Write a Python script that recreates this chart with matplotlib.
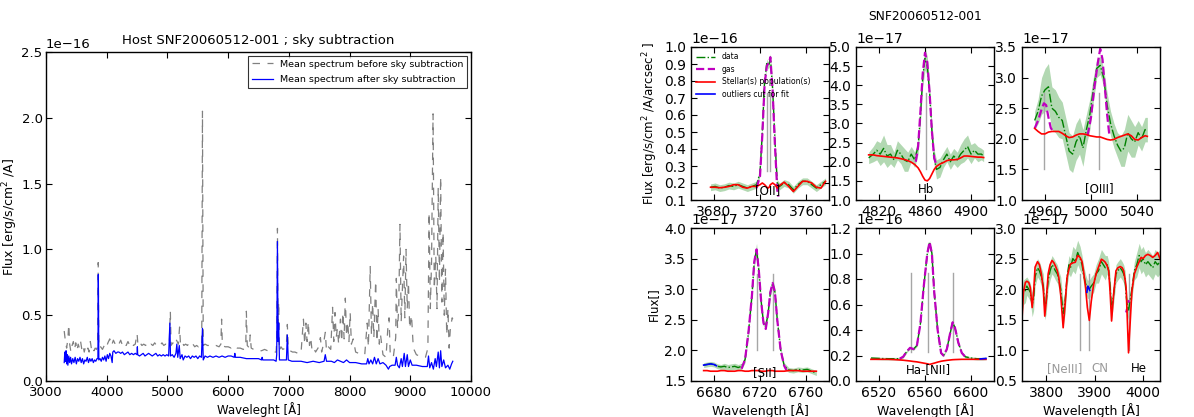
import numpy as np
import matplotlib
matplotlib.use("Agg")
import matplotlib.pyplot as plt
from matplotlib.ticker import MultipleLocator

# ── Left panel: mean spectra (flux in units of 1e-16) ───────────────
SKY_BEFORE = [
    (3300, 0.38), (3320, 0.30), (3340, 0.25), (3360, 0.32), (3375, 0.43), (3390, 0.28),
    (3410, 0.22), (3430, 0.27), (3450, 0.30), (3470, 0.24), (3490, 0.29), (3510, 0.23),
    (3530, 0.28), (3550, 0.25), (3570, 0.30), (3590, 0.24), (3610, 0.27), (3630, 0.22),
    (3650, 0.26), (3670, 0.23), (3690, 0.25), (3710, 0.22), (3730, 0.30), (3750, 0.24),
    (3770, 0.26), (3790, 0.23), (3810, 0.25), (3830, 0.24), (3850, 0.26), (3860, 0.90),
    (3870, 0.25), (3900, 0.26), (3930, 0.24), (3960, 0.27), (3990, 0.25), (4020, 0.29),
    (4050, 0.32), (4080, 0.27), (4110, 0.31), (4140, 0.28), (4170, 0.30), (4200, 0.28),
    (4230, 0.31), (4260, 0.27), (4290, 0.29), (4320, 0.27), (4350, 0.30), (4380, 0.27),
    (4410, 0.29), (4440, 0.27), (4470, 0.28), (4500, 0.36), (4515, 0.27), (4550, 0.29),
    (4580, 0.27), (4610, 0.28), (4640, 0.27), (4670, 0.29), (4700, 0.27), (4730, 0.28),
    (4760, 0.27), (4790, 0.29), (4820, 0.27), (4850, 0.28), (4880, 0.27), (4910, 0.29),
    (4940, 0.27), (4970, 0.28), (5000, 0.27), (5030, 0.28), (5048, 0.53), (5060, 0.27),
    (5090, 0.29), (5120, 0.27), (5150, 0.31), (5180, 0.28), (5200, 0.41), (5215, 0.28),
    (5240, 0.30), (5270, 0.27), (5300, 0.28), (5330, 0.27), (5360, 0.29), (5390, 0.27),
    (5420, 0.28), (5450, 0.26), (5480, 0.27), (5510, 0.26), (5540, 0.28), (5565, 0.27),
    (5577, 2.05), (5590, 0.27), (5620, 0.28), (5660, 0.27), (5700, 0.27), (5750, 0.26),
    (5800, 0.27), (5850, 0.26), (5880, 0.28), (5892, 0.47), (5905, 0.27), (5950, 0.26),
    (6000, 0.26), (6050, 0.25), (6100, 0.27), (6150, 0.25), (6200, 0.25), (6250, 0.24),
    (6290, 0.26), (6300, 0.53), (6315, 0.27), (6350, 0.25), (6363, 0.35), (6380, 0.25),
    (6420, 0.24), (6470, 0.24), (6500, 0.23), (6550, 0.23), (6600, 0.24), (6650, 0.23),
    (6700, 0.22), (6750, 0.22), (6790, 0.22), (6800, 0.30), (6812, 1.16), (6822, 0.35),
    (6832, 0.60), (6845, 0.23), (6870, 0.26), (6900, 0.24), (6940, 0.25), (6960, 0.28),
    (6975, 0.43), (6990, 0.24), (7020, 0.23), (7060, 0.22), (7100, 0.22), (7150, 0.21),
    (7200, 0.21), (7240, 0.47), (7260, 0.28), (7280, 0.44), (7300, 0.30), (7320, 0.45),
    (7340, 0.27), (7360, 0.33), (7380, 0.24), (7400, 0.26), (7440, 0.22), (7480, 0.25),
    (7520, 0.33), (7540, 0.22), (7570, 0.28), (7600, 0.37), (7620, 0.23), (7650, 0.26),
    (7690, 0.24), (7720, 0.56), (7740, 0.30), (7760, 0.52), (7780, 0.33), (7800, 0.40),
    (7820, 0.28), (7850, 0.47), (7870, 0.30), (7890, 0.52), (7910, 0.32), (7930, 0.63),
    (7950, 0.34), (7970, 0.45), (7990, 0.30), (8010, 0.52), (8030, 0.28), (8060, 0.32),
    (8100, 0.22), (8150, 0.21), (8200, 0.20), (8250, 0.20), (8290, 0.44), (8310, 0.26),
    (8340, 0.87), (8360, 0.35), (8380, 0.59), (8400, 0.33), (8430, 0.76), (8450, 0.30),
    (8470, 0.55), (8490, 0.28), (8510, 0.35), (8550, 0.20), (8600, 0.18), (8630, 0.40),
    (8650, 0.48), (8670, 0.20), (8720, 0.18), (8760, 0.33), (8770, 0.78), (8790, 0.40),
    (8810, 0.55), (8830, 1.19), (8850, 0.45), (8870, 0.70), (8890, 0.95), (8910, 0.48),
    (8930, 1.00), (8950, 0.55), (8970, 0.75), (8990, 0.40), (9020, 0.50), (9050, 0.25),
    (9100, 0.20), (9150, 0.19), (9200, 0.18), (9250, 0.18), (9290, 0.25), (9310, 1.28),
    (9330, 0.55), (9350, 0.90), (9375, 2.03), (9395, 0.70), (9420, 0.95), (9440, 0.55),
    (9460, 1.47), (9480, 0.75), (9500, 1.55), (9520, 0.60), (9540, 1.13), (9560, 0.50),
    (9580, 0.85), (9600, 0.35), (9620, 0.55), (9640, 0.25), (9660, 0.40), (9690, 0.48),
    (9700, 0.47),
]

SKY_AFTER = [
    (3300, 0.14), (3310, 0.22), (3320, 0.15), (3330, 0.23), (3340, 0.13), (3350, 0.20),
    (3360, 0.12), (3375, 0.19), (3390, 0.14), (3405, 0.18), (3420, 0.13), (3440, 0.17),
    (3460, 0.14), (3480, 0.18), (3500, 0.13), (3520, 0.17), (3540, 0.15), (3560, 0.18),
    (3580, 0.14), (3600, 0.17), (3620, 0.13), (3640, 0.16), (3660, 0.15), (3680, 0.18),
    (3700, 0.14), (3720, 0.17), (3740, 0.15), (3760, 0.17), (3780, 0.14), (3800, 0.16),
    (3820, 0.15), (3840, 0.17), (3855, 0.17), (3862, 0.81), (3870, 0.16), (3890, 0.17),
    (3910, 0.15), (3930, 0.18), (3950, 0.16), (3970, 0.19), (3990, 0.15), (4010, 0.20),
    (4030, 0.17), (4050, 0.21), (4070, 0.19), (4090, 0.14), (4100, 0.22), (4120, 0.23),
    (4150, 0.21), (4180, 0.22), (4200, 0.22), (4230, 0.21), (4260, 0.22), (4290, 0.20),
    (4320, 0.21), (4350, 0.22), (4380, 0.20), (4410, 0.21), (4440, 0.20), (4470, 0.21),
    (4500, 0.20), (4505, 0.26), (4510, 0.20), (4540, 0.19), (4570, 0.20), (4600, 0.21),
    (4630, 0.19), (4660, 0.20), (4690, 0.21), (4720, 0.20), (4750, 0.19), (4780, 0.20),
    (4810, 0.21), (4840, 0.19), (4870, 0.20), (4900, 0.19), (4930, 0.20), (4960, 0.19),
    (4990, 0.20), (5020, 0.19), (5040, 0.44), (5050, 0.19), (5080, 0.20), (5110, 0.18),
    (5140, 0.21), (5155, 0.28), (5170, 0.18), (5195, 0.27), (5210, 0.17), (5240, 0.20),
    (5260, 0.16), (5290, 0.19), (5320, 0.18), (5350, 0.19), (5380, 0.17), (5410, 0.19),
    (5440, 0.18), (5470, 0.19), (5500, 0.17), (5530, 0.19), (5560, 0.18), (5577, 0.40),
    (5590, 0.16), (5620, 0.19), (5660, 0.18), (5700, 0.19), (5750, 0.18), (5800, 0.19),
    (5850, 0.18), (5900, 0.19), (5950, 0.18), (6000, 0.19), (6050, 0.19), (6100, 0.18),
    (6110, 0.21), (6120, 0.18), (6200, 0.18), (6300, 0.17), (6400, 0.17), (6500, 0.17),
    (6550, 0.16), (6560, 0.18), (6570, 0.16), (6650, 0.16), (6750, 0.16), (6790, 0.15),
    (6800, 0.20), (6812, 1.06), (6822, 0.30), (6832, 0.44), (6845, 0.16), (6900, 0.16),
    (6960, 0.16), (6975, 0.35), (6990, 0.16), (7050, 0.15), (7100, 0.15), (7200, 0.15),
    (7300, 0.14), (7400, 0.15), (7500, 0.14), (7580, 0.15), (7600, 0.20), (7620, 0.15),
    (7700, 0.15), (7750, 0.14), (7800, 0.16), (7850, 0.15), (7900, 0.14), (7950, 0.16),
    (8000, 0.14), (8100, 0.14), (8200, 0.13), (8280, 0.13), (8300, 0.17), (8320, 0.13),
    (8350, 0.16), (8380, 0.13), (8410, 0.18), (8440, 0.13), (8470, 0.17), (8500, 0.13),
    (8550, 0.14), (8600, 0.12), (8640, 0.09), (8660, 0.11), (8700, 0.12), (8750, 0.12),
    (8770, 0.18), (8790, 0.12), (8820, 0.10), (8850, 0.17), (8870, 0.11), (8900, 0.21),
    (8920, 0.11), (8950, 0.20), (8970, 0.11), (9000, 0.16), (9030, 0.12), (9100, 0.12),
    (9200, 0.11), (9280, 0.11), (9300, 0.19), (9320, 0.10), (9350, 0.14), (9380, 0.09),
    (9410, 0.17), (9430, 0.11), (9460, 0.22), (9480, 0.10), (9500, 0.23), (9520, 0.11),
    (9550, 0.16), (9580, 0.10), (9620, 0.12), (9650, 0.09), (9680, 0.13), (9700, 0.15),
]

# ── Right panels: rows of (wavelength, data, error, stellar) ────────
OII_ROWS = [
    (3677, 0.175, 0.02, 0.175), (3681, 0.18, 0.02, 0.175), (3685, 0.17, 0.02, 0.172),
    (3689, 0.175, 0.02, 0.175), (3693, 0.185, 0.02, 0.18), (3697, 0.18, 0.02, 0.19),
    (3701, 0.19, 0.02, 0.19), (3705, 0.18, 0.02, 0.175), (3709, 0.17, 0.02, 0.17),
    (3713, 0.18, 0.02, 0.18), (3717, 0.19, 0.02, 0.18), (3720, 0.26, 0.02, 0.19),
    (3722, 0.50, 0.02, 0.20), (3724, 0.80, 0.02, 0.19), (3726, 0.91, 0.02, 0.175),
    (3727, 0.89, 0.02, 0.17), (3728, 0.90, 0.02, 0.175), (3729, 0.94, 0.02, 0.19),
    (3731, 0.75, 0.02, 0.20), (3733, 0.45, 0.02, 0.19), (3735, 0.20, 0.02, 0.17),
    (3737, 0.18, 0.02, 0.185), (3741, 0.20, 0.02, 0.205), (3745, 0.19, 0.02, 0.18),
    (3749, 0.16, 0.02, 0.15), (3753, 0.19, 0.02, 0.18), (3757, 0.21, 0.02, 0.21),
    (3761, 0.21, 0.02, 0.21), (3765, 0.19, 0.02, 0.20), (3769, 0.17, 0.02, 0.175),
    (3773, 0.19, 0.02, 0.17), (3777, 0.21, 0.02, 0.21),
]
OII_GAS_WAVE = [3717, 3720, 3722, 3724, 3726, 3727, 3728, 3729, 3731, 3733, 3735, 3736]
OII_GAS = [0.17, 0.24, 0.48, 0.78, 0.89, 0.90, 0.91, 0.94, 0.74, 0.42, 0.16, 0.12]

HB_ROWS = [
    (4811, 2.10, 0.15, 2.18), (4815, 2.20, 0.20, 2.18), (4818, 2.30, 0.25, 2.16),
    (4821, 2.20, 0.30, 2.15), (4824, 2.35, 0.35, 2.14), (4827, 2.15, 0.30, 2.13),
    (4830, 2.20, 0.25, 2.12), (4833, 2.05, 0.20, 2.11), (4836, 2.30, 0.25, 2.10),
    (4839, 2.20, 0.25, 2.08), (4842, 2.05, 0.30, 2.06), (4845, 2.00, 0.25, 2.03),
    (4848, 2.20, 0.20, 1.99), (4851, 2.05, 0.20, 1.93), (4854, 2.40, 0.20, 1.84),
    (4856, 3.20, 0.20, 1.74), (4858, 4.20, 0.25, 1.62), (4860, 4.70, 0.30, 1.52),
    (4862, 4.50, 0.25, 1.50), (4864, 3.80, 0.20, 1.56), (4866, 2.80, 0.20, 1.68),
    (4868, 2.10, 0.20, 1.80), (4870, 1.80, 0.25, 1.88), (4873, 1.85, 0.25, 1.94),
    (4876, 2.05, 0.20, 1.98), (4879, 2.20, 0.20, 2.03), (4882, 2.00, 0.20, 2.05),
    (4885, 2.15, 0.20, 2.05), (4888, 2.05, 0.20, 2.06), (4891, 2.20, 0.25, 2.10),
    (4894, 2.30, 0.30, 2.15), (4897, 2.40, 0.30, 2.15), (4900, 2.20, 0.25, 2.14),
    (4903, 2.30, 0.20, 2.13), (4906, 2.20, 0.20, 2.12), (4909, 2.20, 0.15, 2.12),
    (4911, 2.15, 0.15, 2.11),
]
HB_GAS_WAVE = [4852, 4854, 4856, 4858, 4860, 4862, 4864, 4866, 4868, 4870]
HB_GAS = [2.00, 2.40, 3.30, 4.30, 4.85, 4.60, 3.80, 2.80, 2.10, 1.90]

OIII_ROWS = [
    (4951, 2.30, 0.15, 2.17), (4954, 2.45, 0.20, 2.12), (4957, 2.70, 0.30, 2.08),
    (4960, 2.80, 0.35, 2.08), (4963, 2.85, 0.38, 2.11), (4966, 2.50, 0.35, 2.12),
    (4969, 2.45, 0.35, 2.12), (4972, 2.35, 0.33, 2.12), (4975, 2.30, 0.30, 2.09),
    (4978, 2.05, 0.30, 2.05), (4981, 1.80, 0.30, 2.02), (4984, 1.75, 0.30, 2.03),
    (4987, 1.95, 0.30, 2.06), (4990, 2.05, 0.30, 2.08), (4993, 1.85, 0.30, 2.08),
    (4996, 2.15, 0.25, 2.07), (4999, 2.40, 0.25, 2.05), (5002, 2.80, 0.20, 2.04),
    (5005, 3.15, 0.15, 2.03), (5008, 3.20, 0.15, 2.03), (5011, 3.00, 0.15, 2.01),
    (5014, 2.55, 0.20, 1.99), (5017, 2.25, 0.20, 1.98), (5020, 2.05, 0.20, 1.99),
    (5023, 1.90, 0.20, 2.02), (5026, 1.80, 0.25, 2.04), (5029, 1.85, 0.30, 2.06),
    (5032, 2.10, 0.30, 2.08), (5035, 2.00, 0.30, 2.05), (5038, 1.95, 0.25, 1.99),
    (5041, 2.10, 0.20, 1.98), (5044, 2.00, 0.20, 2.02), (5047, 2.15, 0.20, 2.05),
    (5049, 2.15, 0.20, 2.04),
]
OIII_GAS_WAVE = [[4951, 4954, 4957, 4959, 4961, 4963, 4965, 4967],
                 [4997, 5000, 5003, 5006, 5008, 5010, 5012, 5014, 5016]]
OIII_GAS = [[2.17, 2.30, 2.48, 2.58, 2.55, 2.35, 2.18, 2.12],
            [2.05, 2.35, 2.85, 3.25, 3.47, 3.30, 2.85, 2.40, 2.05]]

SII_ROWS = [
    (6671, 1.76, 0.04, 1.67), (6674, 1.77, 0.04, 1.67), (6677, 1.78, 0.04, 1.66),
    (6680, 1.77, 0.04, 1.66), (6683, 1.74, 0.04, 1.66), (6686, 1.73, 0.04, 1.67),
    (6689, 1.74, 0.05, 1.67), (6692, 1.72, 0.05, 1.66), (6695, 1.73, 0.05, 1.66),
    (6698, 1.74, 0.05, 1.66), (6701, 1.72, 0.05, 1.67), (6704, 1.74, 0.05, 1.67),
    (6707, 1.85, 0.05, 1.66), (6710, 2.30, 0.05, 1.66), (6713, 2.90, 0.06, 1.67),
    (6715, 3.45, 0.08, 1.67), (6717, 3.65, 0.10, 1.67), (6719, 3.30, 0.08, 1.67),
    (6721, 2.80, 0.06, 1.66), (6723, 2.45, 0.05, 1.66), (6725, 2.40, 0.05, 1.66),
    (6727, 2.60, 0.05, 1.67), (6729, 2.95, 0.06, 1.67), (6731, 3.10, 0.07, 1.67),
    (6733, 2.95, 0.06, 1.66), (6735, 2.50, 0.05, 1.66), (6738, 2.00, 0.05, 1.66),
    (6741, 1.75, 0.05, 1.66), (6745, 1.68, 0.04, 1.67), (6749, 1.67, 0.04, 1.67),
    (6753, 1.69, 0.04, 1.67), (6757, 1.68, 0.04, 1.66), (6761, 1.69, 0.04, 1.66),
    (6765, 1.66, 0.04, 1.66), (6769, 1.63, 0.04, 1.66),
]
SII_GAS_WAVE = [6704, 6707, 6710, 6713, 6715, 6717, 6719, 6721, 6723,
                6725, 6727, 6729, 6731, 6733, 6735, 6738, 6741, 6743]
SII_GAS = [1.70, 1.85, 2.30, 2.90, 3.45, 3.65, 3.30, 2.80, 2.45,
           2.35, 2.60, 2.95, 3.10, 2.95, 2.50, 2.00, 1.75, 1.68]
SII_OUT_WAVE = [6671, 6674, 6677, 6680, 6682]
SII_OUT = [1.76, 1.77, 1.78, 1.77, 1.75]

HA_ROWS = [
    (6513, 0.180, 0.010, 0.170), (6518, 0.178, 0.010, 0.170), (6523, 0.176, 0.010, 0.170),
    (6528, 0.175, 0.010, 0.170), (6533, 0.175, 0.010, 0.168), (6538, 0.175, 0.010, 0.165),
    (6541, 0.190, 0.010, 0.163), (6544, 0.230, 0.010, 0.160), (6547, 0.260, 0.010, 0.157),
    (6550, 0.250, 0.010, 0.153), (6553, 0.280, 0.010, 0.150), (6556, 0.450, 0.010, 0.145),
    (6559, 0.750, 0.012, 0.140), (6562, 1.000, 0.012, 0.135), (6564, 1.090, 0.012, 0.130),
    (6566, 1.000, 0.012, 0.135), (6568, 0.700, 0.012, 0.140), (6571, 0.400, 0.010, 0.148),
    (6574, 0.220, 0.010, 0.155), (6576, 0.200, 0.010, 0.158), (6579, 0.250, 0.010, 0.162),
    (6582, 0.380, 0.010, 0.165), (6584, 0.460, 0.010, 0.167), (6586, 0.420, 0.010, 0.168),
    (6589, 0.300, 0.010, 0.169), (6592, 0.220, 0.010, 0.170), (6595, 0.190, 0.010, 0.170),
    (6600, 0.180, 0.010, 0.170), (6605, 0.175, 0.010, 0.170), (6610, 0.175, 0.010, 0.170),
    (6613, 0.177, 0.010, 0.170),
]
HA_GAS_WAVE = [6538, 6541, 6544, 6547, 6550, 6553, 6556, 6559, 6562, 6564, 6566,
               6568, 6571, 6574, 6576, 6579, 6582, 6584, 6586, 6589, 6592, 6595]
HA_GAS = [0.175, 0.19, 0.23, 0.26, 0.25, 0.28, 0.45, 0.75, 1.00, 1.09, 1.00,
          0.70, 0.40, 0.22, 0.20, 0.25, 0.38, 0.46, 0.42, 0.30, 0.22, 0.19]
HA_OUT_WAVE = [6608, 6613]
HA_OUT = [0.173, 0.177]

CONT_ROWS = [
    (3750, 1.80, 0.20, 1.51), (3753, 1.95, 0.20, 1.95), (3757, 1.98, 0.20, 2.11),
    (3760, 2.05, 0.15, 2.13), (3764, 2.00, 0.15, 2.11), (3767, 1.95, 0.15, 2.03),
    (3771, 1.75, 0.20, 1.70), (3774, 1.85, 0.20, 1.95), (3777, 2.20, 0.15, 2.36),
    (3782, 2.35, 0.15, 2.45), (3786, 2.30, 0.15, 2.40), (3790, 2.20, 0.15, 2.25),
    (3794, 2.05, 0.20, 2.00), (3797, 1.70, 0.20, 1.56), (3800, 1.80, 0.20, 1.80),
    (3804, 2.15, 0.15, 2.25), (3808, 2.30, 0.15, 2.40), (3812, 2.40, 0.15, 2.47),
    (3816, 2.35, 0.15, 2.43), (3819, 2.30, 0.15, 2.38), (3823, 2.25, 0.15, 2.30),
    (3826, 2.15, 0.15, 2.19), (3830, 2.00, 0.20, 1.90), (3835, 1.60, 0.20, 1.37),
    (3839, 1.80, 0.20, 1.75), (3843, 2.20, 0.15, 2.19), (3847, 2.40, 0.15, 2.33),
    (3850, 2.35, 0.15, 2.41), (3855, 2.50, 0.20, 2.43), (3860, 2.45, 0.20, 2.44),
    (3865, 2.60, 0.20, 2.55), (3870, 2.50, 0.20, 2.52), (3874, 2.40, 0.15, 2.45),
    (3877, 2.25, 0.15, 2.30), (3881, 2.10, 0.15, 2.05), (3885, 2.00, 0.15, 1.70),
    (3889, 2.00, 0.15, 1.49), (3893, 2.05, 0.15, 1.80), (3898, 2.10, 0.15, 2.08),
    (3903, 2.25, 0.15, 2.25), (3908, 2.30, 0.20, 2.36), (3914, 2.45, 0.20, 2.49),
    (3918, 2.40, 0.20, 2.47), (3922, 2.35, 0.20, 2.44), (3926, 2.40, 0.15, 2.38),
    (3929, 2.30, 0.15, 2.30), (3932, 2.05, 0.15, 1.95), (3935, 1.65, 0.15, 1.48),
    (3939, 1.90, 0.15, 1.90), (3944, 2.25, 0.15, 2.30), (3948, 2.30, 0.15, 2.35),
    (3953, 2.35, 0.15, 2.37), (3957, 2.30, 0.15, 2.35), (3960, 2.25, 0.15, 2.30),
    (3963, 2.15, 0.15, 2.15), (3965, 1.90, 0.15, 2.03), (3968, 1.70, 0.15, 1.40),
    (3970, 1.65, 0.15, 0.96), (3973, 1.80, 0.15, 1.40), (3977, 2.00, 0.15, 1.97),
    (3982, 2.30, 0.15, 2.25), (3987, 2.40, 0.20, 2.36), (3992, 2.55, 0.20, 2.45),
    (3996, 2.45, 0.20, 2.52), (4000, 2.50, 0.20, 2.50), (4005, 2.40, 0.20, 2.55),
    (4010, 2.45, 0.20, 2.57), (4015, 2.40, 0.20, 2.55), (4020, 2.35, 0.20, 2.52),
    (4025, 2.45, 0.20, 2.55), (4030, 2.40, 0.20, 2.60), (4035, 2.45, 0.20, 2.50),
]
CONT_GAS_WAVE = [[3965, 3967], [3969, 3971]]
CONT_GAS = [[1.62, 1.68], [1.78, 1.82]]
CONT_OUT_WAVE = [3884, 3886, 3888, 3890]
CONT_OUT = [1.95, 2.05, 2.02, 1.98]

# x tick labels of the right panels
OII_TICKS = [3680, 3720, 3760]
HB_TICKS = [4820, 4860, 4900]
OIII_TICKS = [4960, 5000, 5040]
SII_TICKS = [6680, 6720, 6760]
HA_TICKS = [6520, 6560, 6600]
CONT_TICKS = [3800, 3900, 4000]

W, H = 1194, 417
RIGHT_LEFTS = [691, 856, 1022]
RIGHT_TOPS = [47, 228]
PANEL_W, PANEL_H = 138, 153
TICK_FS = 10

plt.rcParams.update({
    "font.family": "DejaVu Sans",
    "xtick.direction": "in", "ytick.direction": "in",
    "xtick.top": True, "ytick.right": True,
    "xtick.major.size": 4, "ytick.major.size": 4,
    "xtick.minor.visible": False, "ytick.minor.visible": False,
    "axes.linewidth": 1.0,
    "mathtext.default": "regular",
})


def px_axes(fig, left, top, width, height):
    return fig.add_axes([left / W, 1 - (top + height) / H, width / W, height / H])


def sci_axis(ax, power, step, fs=TICK_FS):
    ax.yaxis.set_major_locator(MultipleLocator(step * 10.0 ** power))
    ax.ticklabel_format(axis="y", style="sci", scilimits=(power, power))
    ax.tick_params(labelsize=fs)
    ax.yaxis.get_offset_text().set_fontsize(fs)


def draw_panel(ax, rows, scale, gas_w, gas_v, out_w=None, out_v=None):
    wave = np.array([r[0] for r in rows])
    data = np.array([r[1] for r in rows]) * scale
    err = np.array([r[2] for r in rows]) * scale
    star = np.array([r[3] for r in rows]) * scale
    ax.fill_between(wave, data - err, data + err, color="g", alpha=0.3, lw=0)
    ax.plot(wave, data, color="g", ls="-.", lw=1.0, label="data")
    for k, (gw, gv) in enumerate(zip(gas_w, gas_v)):
        ax.plot(gw, np.array(gv) * scale, color="m", ls="--", lw=1.6,
                label="gas" if k == 0 else None)
    ax.plot(wave, star, color="r", lw=1.2, label="Stellar(s) population(s)")
    if out_w is not None:
        ax.plot(out_w, np.array(out_v) * scale, color="b", lw=1.2,
                label="outliers cut for fit")


def mark_lines(ax, waves, lo, hi, scale):
    for w in waves:
        ax.plot([w, w], [lo * scale, hi * scale], color="0.65", lw=1.0, zorder=1.5)


fig = plt.figure(figsize=(W / 100, H / 100), dpi=100)

# ── Left: sky subtraction ────────────────────────────────────────────
ax = px_axes(fig, 46, 52, 425, 329)
bw, bf = zip(*SKY_BEFORE)
aw, af = zip(*SKY_AFTER)
ax.plot(bw, np.array(bf) * 1e-16, color="gray", ls=(0, (6, 6)), lw=0.9,
        label="Mean spectrum before sky subtraction")
ax.plot(aw, np.array(af) * 1e-16, color="b", lw=0.9,
        label="Mean spectrum after sky subtraction")
ax.set_xlim(3000, 10000)
ax.set_ylim(0, 2.5e-16)
ax.xaxis.set_major_locator(MultipleLocator(1000))
sci_axis(ax, -16, 0.5, fs=9.5)
ax.tick_params(axis="y", pad=2.5)
ax.set_title("Host SNF20060512-001 ; sky subtraction", fontsize=9.5, pad=6)
ax.set_xlabel("Waveleght [Å]", fontsize=8.5, labelpad=2)
ax.set_ylabel("Flux [erg/s/cm$^2$ /A]", fontsize=9, labelpad=1)
leg = ax.legend(loc="upper right", fontsize=6.8, fancybox=False,
                borderaxespad=0.4, handlelength=2.2, labelspacing=0.7)
leg.get_frame().set_edgecolor("black")
leg.get_frame().set_linewidth(0.8)

# ── Right: line fits ─────────────────────────────────────────────────
fig.text(925 / W, 1 - 17 / H, "SNF20060512-001", ha="center", va="center", fontsize=8.8)

axs = [[px_axes(fig, l, t, PANEL_W, PANEL_H) for l in RIGHT_LEFTS] for t in RIGHT_TOPS]

a = axs[0][0]
draw_panel(a, OII_ROWS, 1e-16, [OII_GAS_WAVE], [OII_GAS], [], [])
mark_lines(a, [3726.0, 3728.8], 0.27, 0.73, 1e-16)
a.set_xlim(3660, 3780)
a.set_xticks(OII_TICKS)
a.set_ylim(0.1e-16, 1.0e-16)
sci_axis(a, -16, 0.1)
a.text(3727, 0.155e-16, "[OII]", ha="center", va="center", fontsize=8.5)
a.legend(loc="upper left", frameon=False, fontsize=5.5, handlelength=2.5,
         labelspacing=0.45, borderaxespad=0.3)
a.set_ylabel("Flux [erg/s/cm$^2$ /A/arcsec$^2$ ]", fontsize=8.5, labelpad=3)

a = axs[0][1]
draw_panel(a, HB_ROWS, 1e-17, [HB_GAS_WAVE], [HB_GAS])
mark_lines(a, [4861], 1.8, 3.8, 1e-17)
a.set_xlim(4800, 4920)
a.set_xticks(HB_TICKS)
a.set_ylim(1.0e-17, 5.0e-17)
sci_axis(a, -17, 0.5)
a.text(4861, 1.28e-17, "Hb", ha="center", va="center", fontsize=8.5)

a = axs[0][2]
draw_panel(a, OIII_ROWS, 1e-17, OIII_GAS_WAVE, OIII_GAS)
mark_lines(a, [4959, 5007], 1.5, 2.75, 1e-17)
a.set_xlim(4940, 5060)
a.set_xticks(OIII_TICKS)
a.set_ylim(1.0e-17, 3.5e-17)
sci_axis(a, -17, 0.5)
a.text(5007, 1.18e-17, "[OIII]", ha="center", va="center", fontsize=8.5)

a = axs[1][0]
draw_panel(a, SII_ROWS, 1e-17, [SII_GAS_WAVE], [SII_GAS], SII_OUT_WAVE, SII_OUT)
mark_lines(a, [6717, 6731], 2.0, 3.25, 1e-17)
a.set_xlim(6660, 6780)
a.set_xticks(SII_TICKS)
a.set_ylim(1.5e-17, 4.0e-17)
sci_axis(a, -17, 0.5)
a.text(6724, 1.64e-17, "[SII]", ha="center", va="center", fontsize=8.5)
a.set_ylabel("Flux[]", fontsize=8.5, labelpad=3)

a = axs[1][1]
draw_panel(a, HA_ROWS, 1e-16, [HA_GAS_WAVE], [HA_GAS], HA_OUT_WAVE, HA_OUT)
mark_lines(a, [6548, 6563, 6584], 0.23, 0.85, 1e-16)
a.set_xlim(6500, 6620)
a.set_xticks(HA_TICKS)
a.set_ylim(0.0, 1.2e-16)
sci_axis(a, -16, 0.2)
a.text(6563, 0.09e-16, "Ha-[NII]", ha="center", va="center", fontsize=8.5)

a = axs[1][2]
draw_panel(a, CONT_ROWS, 1e-17, CONT_GAS_WAVE, CONT_GAS, CONT_OUT_WAVE, CONT_OUT)
mark_lines(a, [3869, 3889, 3970], 1.0, 2.25, 1e-17)
a.set_xlim(3750, 4035)
a.set_xticks(CONT_TICKS)
a.set_ylim(0.5e-17, 3.0e-17)
sci_axis(a, -17, 0.5)
a.text(3874, 0.7e-17, "[NeIII]", ha="right", va="center", fontsize=8.5, color="0.6")
a.text(3893, 0.7e-17, "CN", ha="left", va="center", fontsize=8.5, color="0.6")
a.text(3974, 0.7e-17, "He", ha="left", va="center", fontsize=8.5, color="black")

for a in axs[1]:
    a.set_xlabel("Wavelength [Å]", fontsize=9, labelpad=2)

fig.savefig("out.png", dpi=100)
